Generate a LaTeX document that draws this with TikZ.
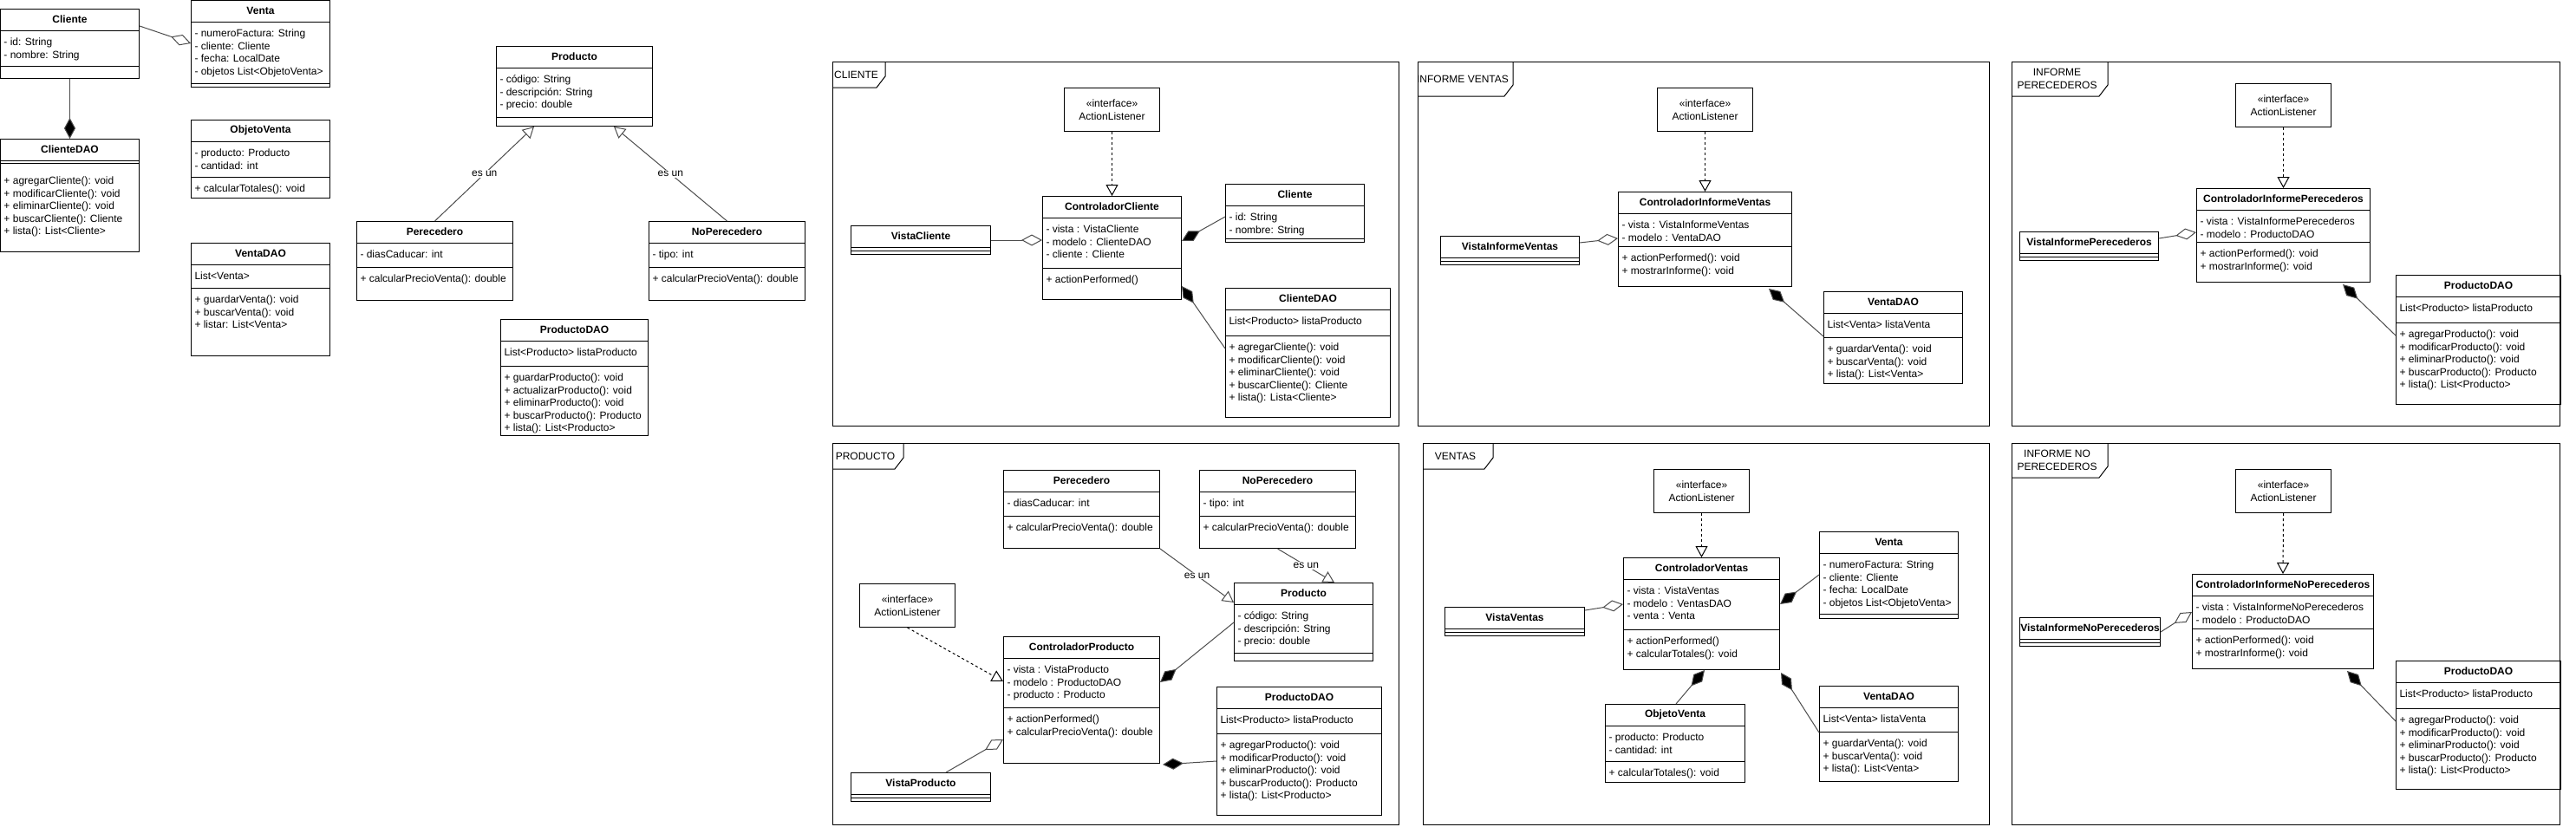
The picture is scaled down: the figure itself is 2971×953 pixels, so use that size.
\documentclass[tikz,border=0pt]{standalone}
\usepackage{fontspec}
\setmainfont{Liberation Sans}
\usetikzlibrary{arrows.meta,calc}

% class box: name, x, y, width, title, attr height, attributes, method height, methods
\newcommand{\umlclass}[9]{%
  \node[clsbox, minimum width=#4pt, minimum height=25pt+#6pt+#8pt] (#1) at (#2,#3) {};
  \node[clstitle] (#1-t) at ($(#1.north)+(0,12.5)$) {#5};
  \draw ($(#1.north west)+(0,25)$) -- ++(#4,0);
  \draw ($(#1.north west)+(0,25+#6)$) -- ++(#4,0);
  \node[clstext] (#1-a) at ($(#1.north west)+(0,25)$) {\rule{0pt}{17pt}#7};
  \node[clstext] (#1-m) at ($(#1.north west)+(0,25+#6)$) {\rule{0pt}{17pt}#9};
}
% frame: name, x1, y1, x2, y2, tab width, tab height, label
\newcommand{\umlframe}[8]{%
  \draw (#2,#3) rectangle (#4,#5);
  \draw (#2,#3+#7) -- (#2+#6-10,#3+#7) -- (#2+#6,#3+#7-13) -- (#2+#6,#3);
  \node[frmlabel] (#1) at (#2+#6/2-3,#3+#7/2) {#8};
}

\begin{document}
\begin{tikzpicture}[
  x=1pt, y=-1pt, line width=1pt,
  every node/.style={font=\fontsize{12}{14.5}\selectfont},
  clsbox/.style={draw, anchor=north west, inner sep=0pt},
  clstitle/.style={font=\fontsize{12}{14.5}\selectfont\bfseries, inner sep=0pt},
  clstext/.style={anchor=north west, align=left, inner xsep=4pt, inner ysep=0pt},
  ifbox/.style={draw, anchor=north west, align=center, minimum width=110pt, minimum height=50pt},
  frmlabel/.style={align=center, inner sep=0pt},
  link/.style={draw=black!70},
  inh/.style={link, -{Triangle[open, length=13pt, width=14pt]}},
  real/.style={dash pattern=on 3pt off 3pt, -{Triangle[open, length=13pt, width=14pt]}},
  agg/.style={link, -{Diamond[open, length=24pt, width=13pt]}},
  comp/.style={link, -{Diamond[length=24pt, width=13pt, fill=black]}},
  lbl/.style={fill=white, inner sep=1pt}
]
\useasboundingbox (0,0) rectangle (2971,953);

% modelo suelto
\umlclass{cliL}{0}{10}{160}{Cliente}{41}{- id: String\\- nombre: String}{14}{}
\umlclass{vta}{220}{0}{160}{Venta}{71}{- numeroFactura: String\\- cliente: Cliente\\- fecha: LocalDate\\- objetos List<ObjetoVenta>}{4}{}
\umlclass{objV}{220}{138}{160}{ObjetoVenta}{41}{- producto: Producto\\- cantidad: int}{24}{+ calcularTotales(): void}
\umlclass{cliDAO}{0}{160}{160}{ClienteDAO}{3}{}{102}{\rule{0pt}{24pt}+ agregarCliente(): void\\+ modificarCliente(): void\\+ eliminarCliente(): void\\+ buscarCliente(): Cliente\\+ lista(): List<Cliente>}
\umlclass{vtaDAO}{220}{280}{160}{VentaDAO}{27}{List<Venta>}{78}{+ guardarVenta(): void\\+ buscarVenta(): void\\+ listar: List<Venta>}

\umlclass{prod}{572}{53}{180}{Producto}{57}{- código: String\\- descripción: String\\- precio: double}{10}{}
\umlclass{per}{411}{255}{180}{Perecedero}{28}{- diasCaducar: int}{38}{+ calcularPrecioVenta(): double}
\umlclass{noPer}{748}{255}{180}{NoPerecedero}{28}{- tipo: int}{38}{+ calcularPrecioVenta(): double}
\umlclass{prodDAO}{577}{368}{170}{ProductoDAO}{29}{List<Producto> listaProducto}{80}{+ guardarProducto(): void\\+ actualizarProducto(): void\\+ eliminarProducto(): void\\+ buscarProducto(): Producto\\+ lista(): List<Producto>}

\draw[agg] ($(cliL.north east)+(0,20)$) -- ($(vta.north west)+(0,50)$);
\draw[comp] (cliL.south) -- (cliDAO.north);
\draw[inh] (per.north) -- node[lbl] (esun1) {es un} ($(prod.south west)+(44,0)$);
\draw[inh] (noPer.north) -- node[lbl] (esun2) {es un} ($(prod.south west)+(136,0)$);

% CLIENTE
\umlframe{fCli}{960}{71}{1613}{491}{61}{30}{CLIENTE}
\node[ifbox] (ALc) at (1227,101) {«interface»\\ActionListener};
\umlclass{ctlC}{1202}{226}{160}{ControladorCliente}{58}{- vista : VistaCliente\\- modelo : ClienteDAO\\- cliente : Cliente}{36}{+ actionPerformed()}
\umlclass{visC}{981}{260}{161}{VistaCliente}{4}{}{4}{}
\umlclass{cliC}{1413}{212}{160}{Cliente}{38}{- id: String\\- nombre: String}{4}{}
\umlclass{cliDAOC}{1413}{332}{190}{ClienteDAO}{30}{List<Producto> listaProducto}{94}{+ agregarCliente(): void\\+ modificarCliente(): void\\+ eliminarCliente(): void\\+ buscarCliente(): Cliente\\+ lista(): Lista<Cliente>}

\draw[real] (ALc.south) -- (ctlC.north);
\draw[agg] (visC.east) -- (visC.east -| ctlC.west);
\draw[comp] ($(cliC.north west)+(0,38)$) -- ($(ctlC.north east)+(0,52)$);
\draw[comp] ($(cliDAOC.north west)+(0,70)$) -- ($(ctlC.north east)+(0,104)$);

% INFORME VENTAS
\umlframe{fInfV}{1635}{71}{2294}{491}{110}{40}{INFORME VENTAS}
\node[ifbox] (ALiv) at (1911,101) {«interface»\\ActionListener};
\umlclass{ctlIV}{1866}{221}{200}{ControladorInformeVentas}{38}{- vista : VistaInformeVentas\\- modelo : VentaDAO}{46}{+ actionPerformed(): void\\+ mostrarInforme(): void}
\umlclass{visIV}{1661}{272}{160}{VistaInformeVentas}{4}{}{4}{}
\umlclass{vtaDAOiv}{2103}{336}{160}{VentaDAO}{28}{List<Venta> listaVenta}{53}{+ guardarVenta(): void\\+ buscarVenta(): void\\+ lista(): List<Venta>}

\draw[real] (ALiv.south) -- (ctlIV.north);
\draw[agg] ($(visIV.north east)+(0,8)$) -- ($(ctlIV.north west)+(0,54)$);
\draw[comp] ($(vtaDAOiv.north west)+(0,52)$) -- ($(ctlIV.south west)+(174,2)$);

% INFORME PERECEDEROS
\umlframe{fInfP}{2320}{71}{2952}{491}{111}{40}{INFORME\\PERECEDEROS}
\node[ifbox] (ALip) at (2578,96) {«interface»\\ActionListener};
\umlclass{ctlIP}{2533}{217}{200}{ControladorInformePerecederos}{37}{- vista : VistaInformePerecederos\\- modelo : ProductoDAO}{46}{+ actionPerformed(): void\\+ mostrarInforme(): void}
\umlclass{visIP}{2329}{267}{160}{VistaInformePerecederos}{4}{}{4}{}
\umlclass{prodDAOip}{2763}{317}{190}{ProductoDAO}{30}{List<Producto> listaProducto}{94}{+ agregarProducto(): void\\+ modificarProducto(): void\\+ eliminarProducto(): void\\+ buscarProducto(): Producto\\+ lista(): List<Producto>}

\draw[real] (ALip.south) -- (ctlIP.north);
\draw[agg] ($(visIP.north east)+(0,8)$) -- ($(ctlIP.north west)+(0,51)$);
\draw[comp] ($(prodDAOip.north west)+(0,70)$) -- ($(ctlIP.south west)+(169,2)$);

% PRODUCTO
\umlframe{fProd}{960}{511}{1613}{951}{82}{30}{PRODUCTO}
\node[ifbox] (ALp) at (991,673) {«interface»\\ActionListener};
\umlclass{perP}{1157}{542}{180}{Perecedero}{28}{- diasCaducar: int}{37}{+ calcularPrecioVenta(): double}
\umlclass{noPerP}{1383}{542}{180}{NoPerecedero}{28}{- tipo: int}{37}{+ calcularPrecioVenta(): double}
\umlclass{prodP}{1423}{672}{160}{Producto}{56}{- código: String\\- descripción: String\\- precio: double}{9}{}
\umlclass{ctlP}{1157}{734}{180}{ControladorProducto}{57}{- vista : VistaProducto\\- modelo : ProductoDAO\\- producto : Producto}{64}{+ actionPerformed()\\+ calcularPrecioVenta(): double}
\umlclass{visP}{981}{891}{161}{VistaProducto}{4}{}{4}{}
\umlclass{prodDAOp}{1403}{792}{190}{ProductoDAO}{29}{List<Producto> listaProducto}{94}{+ agregarProducto(): void\\+ modificarProducto(): void\\+ eliminarProducto(): void\\+ buscarProducto(): Producto\\+ lista(): List<Producto>}

\draw[inh] (perP.south east) -- node[lbl] (esun3) {es un} ($(prodP.north west)+(0,23)$);
\draw[inh] (noPerP.south) -- node[lbl] (esun4) {es un} ($(prodP.north west)+(116,0)$);
\draw[real] (ALp.south) -- ($(ctlP.north west)+(0,52)$);
\draw[agg] ($(visP.north west)+(110,0)$) -- ($(ctlP.north west)+(0,119)$);
\draw[comp] ($(prodP.north west)+(0,46)$) -- ($(ctlP.north east)+(0,53)$);
\draw[comp] ($(prodDAOp.north west)+(0,86)$) -- ($(ctlP.south east)+(3,1)$);

% VENTAS
\umlframe{fVen}{1641}{511}{2294}{951}{81}{30}{VENTAS}
\node[ifbox] (ALv) at (1907,541) {«interface»\\ActionListener};
\umlclass{ctlV}{1872}{643}{180}{ControladorVentas}{58}{- vista : VistaVentas\\- modelo : VentasDAO\\- venta : Venta}{46}{+ actionPerformed()\\+ calcularTotales(): void}
\umlclass{visV}{1666}{700}{161}{VistaVentas}{4}{}{4}{}
\umlclass{vtaV}{2098}{613}{160}{Venta}{70}{- numeroFactura: String\\- cliente: Cliente\\- fecha: LocalDate\\- objetos List<ObjetoVenta>}{5}{}
\umlclass{objVv}{1851}{812}{161}{ObjetoVenta}{41}{- producto: Producto\\- cantidad: int}{24}{+ calcularTotales(): void}
\umlclass{vtaDAOv}{2098}{791}{160}{VentaDAO}{28}{List<Venta> listaVenta}{57}{+ guardarVenta(): void\\+ buscarVenta(): void\\+ lista(): List<Venta>}

\draw[real] (ALv.south) -- (ctlV.north);
\draw[agg] ($(visV.north east)+(0,4)$) -- ($(ctlV.north west)+(0,54)$);
\draw[comp] ($(vtaV.north west)+(0,50)$) -- ($(ctlV.north east)+(0,54)$);
\draw[comp] ($(objVv.north west)+(82,0)$) -- ($(ctlV.south west)+(94,0)$);
\draw[comp] ($(vtaDAOv.north west)+(0,54)$) -- ($(ctlV.south east)+(1,3)$);

% INFORME NO PERECEDEROS
\umlframe{fInfNP}{2320}{511}{2952}{951}{111}{40}{INFORME NO\\PERECEDEROS}
\node[ifbox] (ALinp) at (2578,541) {«interface»\\ActionListener};
\umlclass{ctlINP}{2528}{662}{209}{ControladorInformeNoPerecederos}{38}{- vista : VistaInformeNoPerecederos\\- modelo : ProductoDAO}{46}{+ actionPerformed(): void\\+ mostrarInforme(): void}
\umlclass{visINP}{2329}{712}{162}{VistaInformeNoPerecederos}{4}{}{4}{}
\umlclass{prodDAOinp}{2763}{762}{190}{ProductoDAO}{30}{List<Producto> listaProducto}{93}{+ agregarProducto(): void\\+ modificarProducto(): void\\+ eliminarProducto(): void\\+ buscarProducto(): Producto\\+ lista(): List<Producto>}

\draw[real] (ALinp.south) -- (ctlINP.north);
\draw[agg] ($(visINP.north east)+(0,17)$) -- ($(ctlINP.north west)+(0,44)$);
\draw[comp] ($(prodDAOinp.north west)+(0,70)$) -- ($(ctlINP.south west)+(179,2)$);
\end{tikzpicture}
\end{document}
